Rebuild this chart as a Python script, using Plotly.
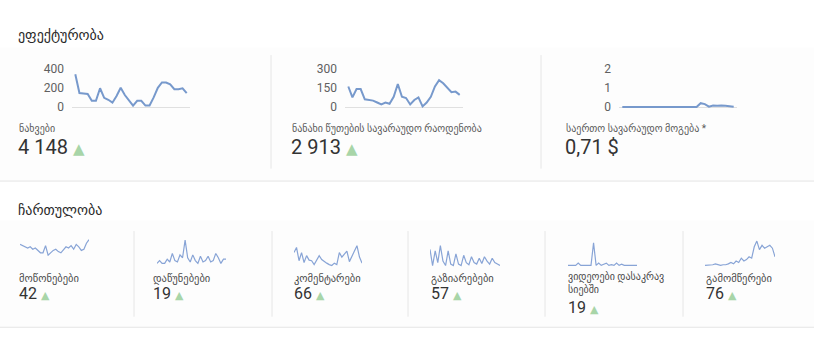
import plotly.graph_objects as go

W, H = 814, 339
days = list(range(28))

# ---- data ----
views = [340, 145, 140, 135, 65, 65, 195, 95, 75, 45, 115, 200, 125, 65,
         15, 65, 65, 15, 15, 100, 200, 255, 255, 235, 185, 185, 195, 145]
watch_minutes = [160, 75, 140, 140, 60, 55, 50, 35, 20, 35, 25, 80, 180, 80,
                 70, 20, 55, 75, 5, 35, 80, 160, 210, 185, 150, 115, 120, 95]
revenue = [0, 0, 0, 0, 0, 0, 0, 0, 0, 0, 0, 0, 0, 0,
           0, 0, 0, 0, 0, 0.2, 0.15, 0.02, 0.08, 0.06, 0.08, 0.06, 0.05, 0.01]
likes = [6, 5.5, 5, 4.5, 5, 4, 4.5, 3.5, 2.5, 2.5, 5.5, 1.5, 2.5, 3.5,
         4, 3, 2.5, 4, 5, 4.5, 5.5, 4, 6, 5, 3.5, 4, 6.5, 8]
dislikes = [0, 10, 0, 0, 15, 5, 35, 10, 5, 30, 20, 82, 20, 5,
            30, 10, 0, 25, 5, 10, 25, 5, 10, 35, 20, 0, 15, 15]
comments = [50, 67, 23, 50, 17, 40, 25, 23, 10, 25, 40, 27, 20, 15,
            10, 7, 15, 10, 50, 35, 45, 55, 20, 40, 55, 73, 35, 15]
shares = [60, 5, 55, 15, 73, 20, 5, 55, 10, 5, 45, 10, 5, 40,
          15, 8, 35, 15, 10, 30, 12, 35, 20, 10, 30, 15, 10, 5]
playlist_adds = [0, 0, 0, 0, 1, 0, 0, 0, 0, 0, 10, 0, 1, 0,
                 0.5, 1, 0, 0.3, 0, 1, 0, 0.5, 0, 0, 0, 0, 0, 0]
subscribers = [0, 0, 0, 2, 5, 3, 0, 2, 2, 5, 10, 5, 15, 10,
               25, 15, 20, 30, 25, 65, 85, 55, 70, 60, 65, 70, 60, 30]

section_titles = ["ეფექტურობა", "ჩართულობა"]
top_labels = ["ნახვები", "ნანახი წუთების სავარაუდო რაოდენობა", "საერთო სავარაუდო მოგება *"]
top_totals = ["4 148", "2 913", "0,71 $"]
top_up = [True, True, False]
top_ticks = [[0, 200, 400], [0, 150, 300], [0, 1, 2]]

bottom_labels = ["მოწონებები", "დაწუნებები", "კომენტარები", "გაზიარებები",
                 "ვიდეოები დასაკრავ<br>სიებში", "გამომწერები"]
bottom_totals = ["42", "19", "66", "57", "19", "76"]

# ---- layout helpers ----
def fx(p):
    return p / W

def fy(p):
    return 1 - p / H

LINE = "#7799cc"
LINE2 = "#88a4d6"
GREEN = "#a8d5a8"
FONT = "Roboto, DejaVu Sans, sans-serif"

fig = go.Figure()
layout = dict(width=W, height=H, margin=dict(l=0, r=0, t=0, b=0),
              paper_bgcolor="white", plot_bgcolor="rgba(0,0,0,0)",
              showlegend=False, font=dict(family=FONT))

shapes = []
annotations = []

# card backgrounds
shapes.append(dict(type="rect", xref="paper", yref="paper", x0=0, x1=1,
                   y0=fy(180), y1=fy(42), fillcolor="#fdfdfd", line_width=0, layer="below"))
shapes.append(dict(type="rect", xref="paper", yref="paper", x0=0, x1=1,
                   y0=fy(332), y1=fy(222), fillcolor="#fdfdfd", line_width=0, layer="below"))
# horizontal separators
for yy in (181, 333):
    shapes.append(dict(type="line", xref="paper", yref="paper", x0=0, x1=1,
                       y0=fy(yy), y1=fy(yy), line=dict(color="#e3e3e3", width=1)))
# top vertical separators
for xx in (271, 541):
    shapes.append(dict(type="line", xref="paper", yref="paper", x0=fx(xx), x1=fx(xx),
                       y0=fy(168), y1=fy(50), line=dict(color="#e6e6e6", width=1)))
# bottom vertical separators
for xx in (134, 272, 408, 545, 683):
    shapes.append(dict(type="line", xref="paper", yref="paper", x0=fx(xx), x1=fx(xx),
                       y0=fy(322), y1=fy(233), line=dict(color="#e6e6e6", width=1)))

# section titles
for t, yy in zip(section_titles, (29, 211)):
    annotations.append(dict(text=t, xref="paper", yref="paper", x=fx(16), y=fy(yy),
                            xanchor="left", yanchor="middle", align="left", showarrow=False,
                            font=dict(size=14, color="#2a2a2a", family=FONT)))

# ---- top charts ----
top_series = [views, watch_minutes, revenue]
top_dom_x = [(72, 190), (345, 463), (619, 737)]
top_text_x = [17, 290, 564]
for i, (ser, dx, ticks) in enumerate(zip(top_series, top_dom_x, top_ticks)):
    n = i + 1
    xa = "x" if n == 1 else f"x{n}"
    ya = "y" if n == 1 else f"y{n}"
    fig.add_trace(go.Scatter(x=days, y=ser, mode="lines", xaxis=xa, yaxis=ya,
                             line=dict(color=LINE, width=2), hoverinfo="skip"))
    top = ticks[-1]
    layout["xaxis" if n == 1 else f"xaxis{n}"] = dict(
        domain=[fx(dx[0]), fx(dx[1])], range=[-0.8, 27.8], anchor=ya,
        showgrid=False, zeroline=False, showline=False, showticklabels=False, ticks="")
    layout["yaxis" if n == 1 else f"yaxis{n}"] = dict(
        domain=[fy(105), fy(64)], range=[-0.025 * top, top], anchor=xa,
        tickvals=ticks, showgrid=False, zeroline=True, zerolinecolor="#e0e0e0",
        zerolinewidth=1, showline=False, ticks="", ticklabelstandoff=7,
        tickfont=dict(size=12, color="#606060", family=FONT))
    annotations.append(dict(text=top_labels[i], xref="paper", yref="paper",
                            x=fx(top_text_x[i]), y=fy(127), xanchor="left", yanchor="middle",
                            align="left", showarrow=False,
                            font=dict(size=10, color="#5a5a5a", family=FONT)))
    tot = top_totals[i]
    if top_up[i]:
        tot += f" <span style='color:{GREEN};font-size:15px'>▲</span>"
    annotations.append(dict(text=tot, xref="paper", yref="paper",
                            x=fx(top_text_x[i] - 1), y=fy(146), xanchor="left", yanchor="middle",
                            align="left", showarrow=False,
                            font=dict(size=20, color="#333333", family=FONT)))

# ---- bottom sparklines ----
bottom_series = [likes, dislikes, comments, shares, playlist_adds, subscribers]
bot_dom_x = [(20, 89), (157, 226), (294, 362), (430, 500), (568, 637), (705, 775)]
bot_dom_y = [(241, 259), (241, 268), (247, 270), (247, 270), (244, 270), (242, 270)]
bot_text_x = [17, 151, 292, 429, 566, 704]
for j, ser in enumerate(bottom_series):
    n = j + 4
    xa, ya = f"x{n}", f"y{n}"
    fig.add_trace(go.Scatter(x=days, y=ser, mode="lines", xaxis=xa, yaxis=ya,
                             line=dict(color=LINE2, width=1.2), hoverinfo="skip"))
    dx, dy = bot_dom_x[j], bot_dom_y[j]
    layout[f"xaxis{n}"] = dict(domain=[fx(dx[0]), fx(dx[1])], range=[0, 27], anchor=ya,
                               visible=False)
    layout[f"yaxis{n}"] = dict(domain=[fy(dy[1]), fy(dy[0])], anchor=xa, visible=False,
                               autorange=True)
    two_line = "<br>" in bottom_labels[j]
    annotations.append(dict(text=bottom_labels[j], xref="paper", yref="paper",
                            x=fx(bot_text_x[j]), y=fy(272 if two_line else 273),
                            xanchor="left", yanchor="top",
                            align="left", showarrow=False,
                            font=dict(size=10 if two_line else 10.5, color="#4a4a4a", family=FONT)))
    annotations.append(dict(text=bottom_totals[j] + f" <span style='color:{GREEN};font-size:11px'>▲</span>",
                            xref="paper", yref="paper", x=fx(bot_text_x[j]),
                            y=fy(312 if two_line else 298), xanchor="left", yanchor="middle",
                            align="left", showarrow=False,
                            font=dict(size=16, color="#333333", family=FONT)))

layout["shapes"] = shapes
layout["annotations"] = annotations
fig.update_layout(**layout)
fig.write_html("out.html")
